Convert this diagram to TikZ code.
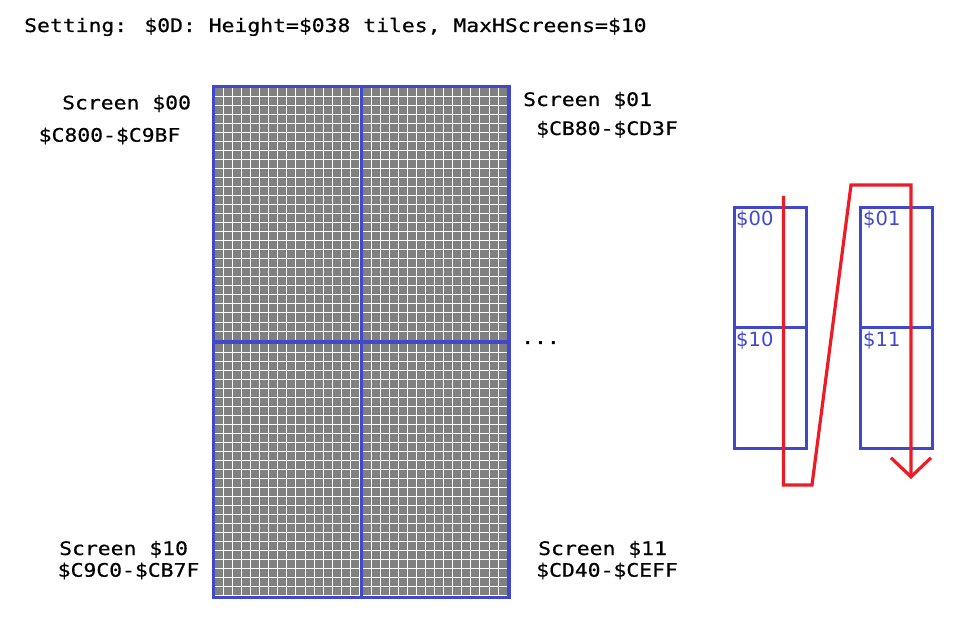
\documentclass[tikz,border=0pt]{standalone}
\usepackage{fontspec}
\newfontfamily\monof[FakeStretch=1.15,FakeBold=0.6]{DejaVu Sans Mono}
\newfontfamily\labf{DejaVu Sans}
\usetikzlibrary{arrows.meta}
\definecolor{scrblue}{RGB}{66,72,204}
\definecolor{tilegray}{RGB}{128,128,128}
\definecolor{pathred}{RGB}{237,28,36}
\begin{document}
\begin{tikzpicture}[x=1pt,y=-1pt,
  txt/.style={anchor=base west, inner sep=0pt, font=\monof\fontsize{18.6}{20}\selectfont},
  lab/.style={anchor=base west, inner sep=0pt, text=scrblue, font=\labf\fontsize{19.5}{22}\selectfont},
  scrframe/.style={draw=scrblue, line width=3.3pt},
  minibox/.style={draw=scrblue, line width=3pt},
  redroute/.style={draw=pathred, line width=3.2pt}]
\useasboundingbox (0,0) rectangle (967,617);
\fill[white] (0,0) rectangle (967,617);
% tile grids of the four screens
\foreach \sx/\sy in {215/88, 362.8/88, 215/343.6, 362.8/343.6} {
  \fill[tilegray] (\sx,\sy) rectangle ++(144.8,252.6);
  \foreach \k in {1,...,16} \draw[white,line width=1pt] ({\sx+\k*9.05-0.5},\sy) -- ++(0,252.6);
  \foreach \k in {1,...,28} \draw[white,line width=1pt] (\sx,{\sy+\k*9.02-0.5}) -- ++(144.8,0);
}
% frame
\coordinate (ftl) at (213.5,86.5);
\coordinate (fbr) at (509.1,597.7);
\coordinate (vt) at (361.3,86.5);
\coordinate (vb) at (361.3,597.7);
\coordinate (hl) at (213.5,342.1);
\coordinate (hr) at (509.1,342.1);
\draw[scrframe] (ftl) rectangle (fbr);
\draw[scrframe] (vt) -- (vb);
\draw[scrframe] (hl) -- (hr);
% texts
\node[txt] (title) at (24,32) {Setting: \$0D: Height=\$038 tiles, MaxHScreens=\$10};
\node[txt] (s00) at (62,109.3) {Screen \$00};
\node[txt] (a00) at (38.5,141.7) {\$C800-\$C9BF};
\node[txt] (s01) at (523,106) {Screen \$01};
\node[txt] (a01) at (536,135) {\$CB80-\$CD3F};
\node[txt] (s10) at (59,555) {Screen \$10};
\node[txt] (a10) at (57.5,576.7) {\$C9C0-\$CB7F};
\node[txt] (s11) at (538,555) {Screen \$11};
\node[txt] (a11) at (536,576.7) {\$CD40-\$CEFF};
\node[txt] (dots) at (521,344) {...};
% mini diagram
\draw[minibox] (734.7,208) rectangle (806.7,449);
\draw[minibox] (734.7,327.8) -- (806.7,327.8);
\draw[minibox] (860.7,208) rectangle (932.8,449);
\draw[minibox] (860.7,327.8) -- (932.8,327.8);
\node[lab] (m00) at (736,226) {\$00};
\node[lab] (m01) at (863,226) {\$01};
\node[lab] (m10) at (736,346.7) {\$10};
\node[lab] (m11) at (863,346.7) {\$11};
% route
\coordinate (r0) at (783.5,196);
\coordinate (r1) at (783.5,485);
\coordinate (r2) at (812,485);
\coordinate (r3) at (851,185);
\coordinate (r4) at (911,185);
\coordinate (r5) at (911,479);
\draw[redroute, -{Straight Barb[length=19pt,width=40pt]}] (r0) -- (r1) -- (r2) -- (r3) -- (r4) -- (r5);
\end{tikzpicture}
\end{document}
